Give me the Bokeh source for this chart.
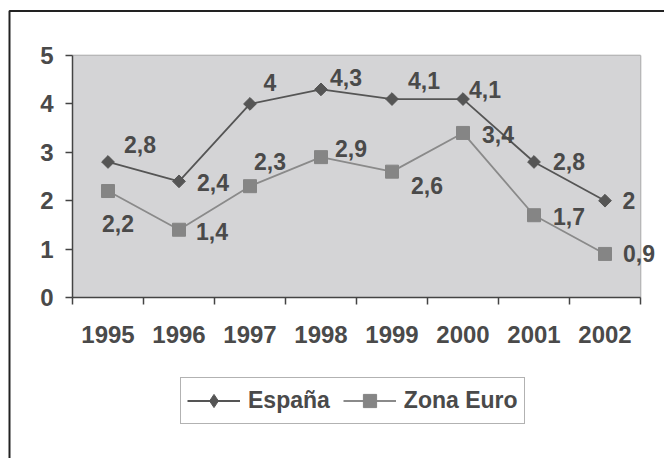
from bokeh.plotting import figure
from bokeh.models import (ColumnDataSource, FixedTicker, LabelSet, Legend, LegendItem,
                          Range1d, BoxAnnotation)
from bokeh.core.properties import value
from bokeh.embed import file_html
from bokeh.resources import INLINE

# ---- data ----
years = ["1995", "1996", "1997", "1998", "1999", "2000", "2001", "2002"]
espana = [2.8, 2.4, 4.0, 4.3, 4.1, 4.1, 2.8, 2.0]
zona_euro = [2.2, 1.4, 2.3, 2.9, 2.6, 3.4, 1.7, 0.9]
espana_labels = ["2,8", "2,4", "4", "4,3", "4,1", "4,1", "2,8", "2"]
zona_labels = ["2,2", "1,4", "2,3", "2,9", "2,6", "3,4", "1,7", "0,9"]
y_ticks = [0, 1, 2, 3, 4, 5]
y_max = 5

# ---- label placement (screen px, style only) ----
esp_dx = [32, 34, 20, 25, 32, 22, 35, 24]
esp_dy = [-17, 1, -21, -12, -19, -10, 0, 0]
zon_dx = [10, 33, 20, 30, 35, 35, 35, 34]
zon_dy = [32, 2, -25, -9, 14, 2, 1, 0]

TXT = "#4a4a4a"
FONT = "Liberation Sans"
n = len(years)

# ---- layout (pixels) ----
W, H = 664, 458
PLOT_L, PLOT_B = 72, 297      # pixel position of (x=0, y=0)
PX_X, PX_Y = 71.0, 48.4       # px per category / per unit

xs = [i + 0.5 for i in range(n)]

src_e = ColumnDataSource(dict(x=xs, y=espana, lab=espana_labels,
                              dx=esp_dx, dy=[-v for v in esp_dy]))
src_z = ColumnDataSource(dict(x=xs, y=zona_euro, lab=zona_labels,
                              dx=zon_dx, dy=[-v for v in zon_dy]))

# the frame covers the whole canvas, axes are placed at fixed locations
p = figure(width=W, height=H, output_backend="svg", toolbar_location=None,
           x_range=Range1d(-PLOT_L / PX_X, (W - PLOT_L) / PX_X),
           y_range=Range1d(-(H - PLOT_B) / PX_Y, PLOT_B / PX_Y),
           min_border_left=0, min_border_right=0, min_border_top=0,
           min_border_bottom=0)

p.background_fill_color = "white"
p.border_fill_color = "white"
p.outline_line_color = None

# outer chart frame (right and bottom sides lie outside the window)
p.add_layout(BoxAnnotation(left=9, right=2000, top=10.5, bottom=2000,
                           left_units="canvas", right_units="canvas",
                           top_units="canvas", bottom_units="canvas",
                           fill_color=None, fill_alpha=0, line_color="#222222",
                           line_alpha=1.0, line_width=2, level="underlay"))

# plot area
p.add_layout(BoxAnnotation(left=0, right=n, bottom=0, top=y_max,
                           fill_color="#d4d4d6", fill_alpha=1.0, line_color=None,
                           level="underlay"))
p.xgrid.visible = False
p.ygrid.visible = False
grid_y = [t for t in y_ticks if 0 < t < y_max]
p.segment(x0=[0] * len(grid_y), x1=[n] * len(grid_y), y0=grid_y, y1=grid_y,
          line_color="#4d4d4d", line_width=1.5, level="underlay")
p.segment(x0=[0, n], x1=[n, n], y0=[y_max, 0], y1=[y_max, y_max],
          line_color="#9a9a9a", line_width=1.5, level="underlay")

# x axis: labels at centres, ticks at boundaries
xa = p.xaxis[0]
xa.fixed_location = 0
xa.bounds = (0, n)
xa.ticker = FixedTicker(ticks=xs, minor_ticks=list(range(n + 1)))
xa.major_label_overrides = {x: y for x, y in zip(xs, years)}
xa.major_tick_line_color = None
xa.major_tick_out = 7
xa.major_tick_in = 0
xa.minor_tick_out = 7
xa.minor_tick_in = 0
xa.minor_tick_line_color = "#444444"
xa.minor_tick_line_width = 1.5
xa.axis_line_color = "#444444"
xa.axis_line_width = 1.5
xa.major_label_text_font = FONT
xa.major_label_text_font_style = "bold"
xa.major_label_text_font_size = "24px"
xa.major_label_text_color = TXT
xa.major_label_standoff = 21

ya = p.yaxis[0]
ya.fixed_location = 0
ya.bounds = (0, y_max)
ya.ticker = FixedTicker(ticks=y_ticks)
ya.major_tick_out = 7
ya.major_tick_in = 0
ya.major_tick_line_color = "#444444"
ya.major_tick_line_width = 1.5
ya.minor_tick_line_color = None
ya.axis_line_color = "#444444"
ya.axis_line_width = 1.5
ya.major_label_text_font = FONT
ya.major_label_text_font_style = "bold"
ya.major_label_text_font_size = "24px"
ya.major_label_text_color = TXT
ya.major_label_standoff = 12

# series
le = p.line("x", "y", source=src_e, line_color="#555555", line_width=1.8)
# tiny diamonds under the rotated squares: the legend draws markers unrotated
se_leg = p.scatter("x", "y", source=src_e, marker="diamond", size=1,
                   fill_color="#555555", line_color="#555555")
se = p.scatter("x", "y", source=src_e, marker="square", size=9, angle=0.785398,
               fill_color="#555555", line_color="#555555")
lz = p.line("x", "y", source=src_z, line_color="#8a8a8a", line_width=1.8)
sz = p.scatter("x", "y", source=src_z, marker="square", size=13,
               fill_color="#858585", line_color="#858585")

for src in (src_e, src_z):
    p.add_layout(LabelSet(x="x", y="y", text="lab", source=src, x_offset="dx",
                          y_offset="dy", text_align="center", text_baseline="middle",
                          text_font=value(FONT), text_font_style="bold",
                          text_font_size="23px", text_color=TXT))

legend = Legend(items=[LegendItem(label="España", renderers=[le, se_leg]),
                       LegendItem(label="Zona Euro", renderers=[lz, sz])],
                location=(180, 34), orientation="horizontal",
                glyph_width=53, glyph_height=33, label_height=33,
                label_standoff=8, spacing=13, padding=6, margin=0,
                label_text_font=FONT, label_text_font_style="bold",
                label_text_font_size="23px", label_text_color=TXT,
                border_line_color="#666666", border_line_width=1.5,
                background_fill_color="white", background_fill_alpha=1.0)
p.add_layout(legend, "center")

open("out.html", "w").write(file_html(p, INLINE))
